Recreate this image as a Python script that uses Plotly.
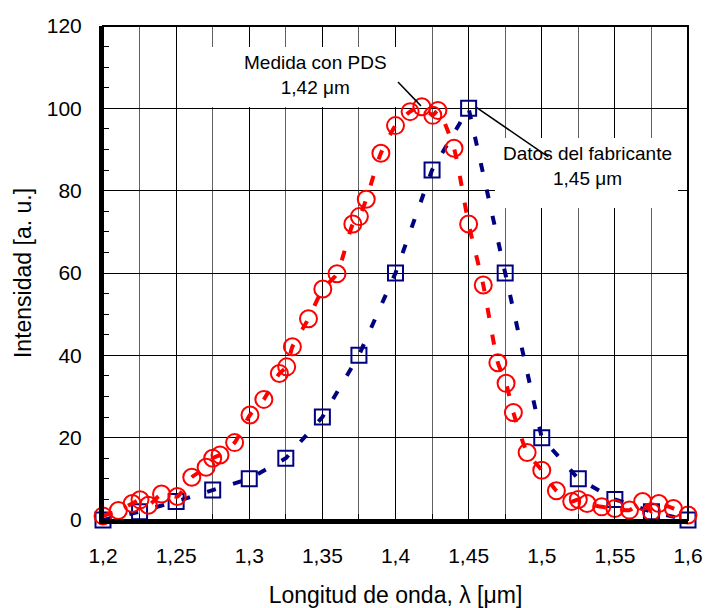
import plotly.graph_objects as go

# ---- data ----
red_x = [1.200, 1.2105, 1.220, 1.2253, 1.231, 1.240, 1.2508, 1.2607, 1.2705, 1.275,
         1.280, 1.290, 1.3005, 1.310, 1.3206, 1.3256, 1.3295, 1.3405, 1.3503, 1.360,
         1.3708, 1.3753, 1.380, 1.390, 1.400, 1.410, 1.418, 1.4255, 1.429, 1.440,
         1.450, 1.460, 1.470, 1.4756, 1.4806, 1.490, 1.500, 1.510, 1.5205, 1.525,
         1.531, 1.541, 1.550, 1.560, 1.569, 1.575, 1.580, 1.590, 1.600]
red_y = [1.0, 2.3, 4.0, 4.9, 3.6, 6.3, 5.7, 10.4, 12.8, 15.0,
         15.8, 18.8, 25.5, 29.3, 35.6, 37.2, 42.1, 48.9, 56.1, 59.8,
         71.9, 73.7, 77.9, 89.1, 95.8, 99.2, 100.4, 98.3, 99.5, 90.3,
         71.9, 57.1, 38.2, 33.2, 26.1, 16.4, 12.1, 7.1, 4.5, 5.0,
         4.0, 3.2, 2.8, 2.4, 4.5, 2.0, 4.0, 2.8, 1.2]

blue_x = [1.200, 1.225, 1.250, 1.275, 1.300, 1.325, 1.350, 1.375, 1.400,
          1.425, 1.450, 1.475, 1.500, 1.525, 1.550, 1.575, 1.600]
blue_y = [0, 2, 4.5, 7.3, 10, 15, 25, 40, 60, 85, 100, 60, 20, 10, 5, 2, 0]

x_tickvals = [1.2, 1.25, 1.3, 1.35, 1.4, 1.45, 1.5, 1.55, 1.6]
x_ticktext = ["1,2", "1,25", "1,3", "1,35", "1,4", "1,45", "1,5", "1,55", "1,6"]
y_tickvals = [0, 20, 40, 60, 80, 100, 120]
y_ticktext = ["0", "20", "40", "60", "80", "100", "120"]

x_title = "Longitud de onda, λ [μm]"
y_title = "Intensidad [a. u.]"
note_pds = "Medida con PDS<br>1,42 μm"
note_fab = "Datos del fabricante<br>1,45 μm"

FONT = "Arial, 'Liberation Sans', sans-serif"

fig = go.Figure()
fig.add_trace(go.Scatter(
    x=blue_x, y=blue_y, mode="lines+markers", cliponaxis=False,
    line=dict(color="#000080", width=4, dash="9px,18px"),
    marker=dict(symbol="square-open", size=15, color="#000080", line=dict(width=2, color="#000080")),
    showlegend=False))
fig.add_trace(go.Scatter(
    x=red_x, y=red_y, mode="lines+markers", cliponaxis=False,
    line=dict(color="#FF0000", width=4, dash="10px,17px", shape="spline", smoothing=0.6),
    marker=dict(symbol="circle-open", size=17, color="#FF0000", line=dict(width=2, color="#FF0000")),
    showlegend=False))

# white label boxes (hide grid only)
fig.add_shape(type="rect", xref="x", yref="y", x0=1.2698, x1=1.4017, y0=100.3, y1=114.9,
              fillcolor="white", line=dict(width=0), layer="between")
fig.add_shape(type="rect", xref="x", yref="y", x0=1.468, x1=1.5932, y0=75.8, y1=92.8,
              fillcolor="white", line=dict(width=0), layer="between")
# leader lines
fig.add_shape(type="line", xref="x", yref="y", x0=1.4017, y0=106.4, x1=1.4174, y1=100.6,
              line=dict(color="black", width=1.5), layer="above")
fig.add_shape(type="line", xref="x", yref="y", x0=1.4555, y0=100.2, x1=1.5045, y1=88.2,
              line=dict(color="black", width=1.5), layer="above")
# frame
fig.add_shape(type="rect", xref="paper", yref="paper", x0=0, x1=1, y0=0, y1=1,
              line=dict(color="black", width=2), layer="above")

fig.add_annotation(x=1.345, y=108.1, xref="x", yref="y", text=note_pds, showarrow=False,
                   font=dict(family=FONT, size=19, color="black"))
fig.add_annotation(x=1.531, y=85.9, xref="x", yref="y", text=note_fab, showarrow=False,
                   font=dict(family=FONT, size=19, color="black"))

fig.update_xaxes(
    range=[1.2, 1.6], tickmode="array", tickvals=x_tickvals, ticktext=x_ticktext,
    showgrid=True, gridcolor="black", gridwidth=1,
    showline=True, linecolor="black", linewidth=4, mirror=False,
    ticks="inside", ticklen=6, tickcolor="black", ticklabelstandoff=14,
    tickfont=dict(family=FONT, size=21, color="black"),
    minor=dict(tickmode="linear", tick0=1.2, dtick=0.025, showgrid=True, gridcolor="#606060",
               gridwidth=1, ticks="inside", ticklen=6, tickcolor="black"),
    title=dict(text=x_title, font=dict(family=FONT, size=23, color="black"), standoff=26),
    zeroline=False)
fig.update_yaxes(
    range=[0, 120], tickmode="array", tickvals=y_tickvals, ticktext=y_ticktext,
    showgrid=True, gridcolor="black", gridwidth=1,
    showline=True, linecolor="black", linewidth=4, mirror=False,
    ticks="inside", ticklen=6, tickcolor="black", ticklabelstandoff=13,
    tickfont=dict(family=FONT, size=21, color="black"),
    minor=dict(tickmode="linear", tick0=0, dtick=5, showgrid=False,
               ticks="inside", ticklen=6, tickcolor="black"),
    title=dict(text=y_title, font=dict(family=FONT, size=23, color="black"), standoff=10),
    zeroline=False)

fig.update_layout(
    width=706, height=608,
    margin=dict(l=103, r=18, t=26, b=88, autoexpand=False),
    paper_bgcolor="white", plot_bgcolor="white",
    font=dict(family=FONT, color="black"),
    showlegend=False)

fig.write_html("out.html")
